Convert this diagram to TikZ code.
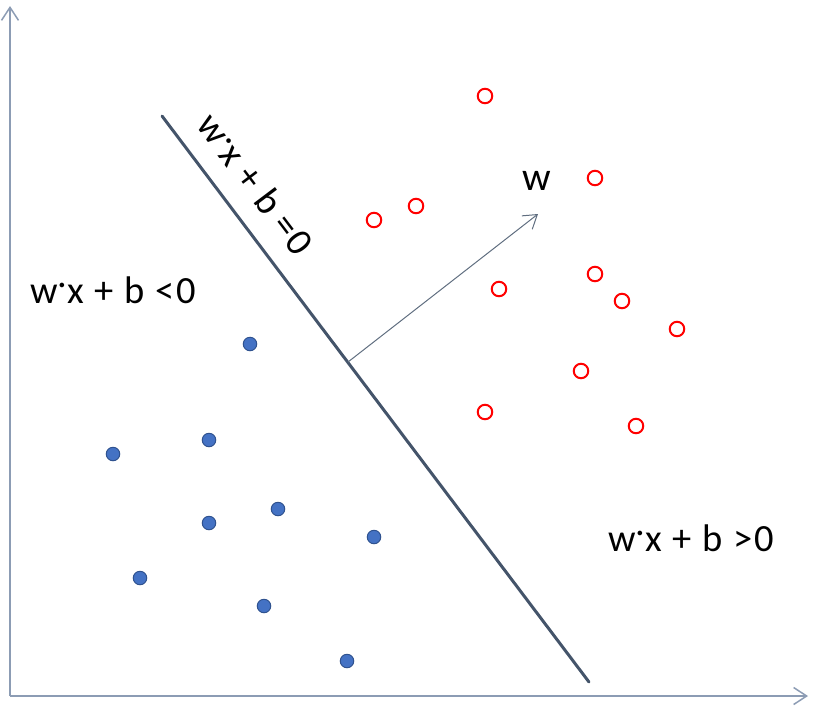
\documentclass[tikz,border=0pt]{standalone}
\usepackage{fontspec}
\setmainfont{Carlito}
\usetikzlibrary{arrows.meta,positioning}
\definecolor{axisgray}{RGB}{140,156,180}
\definecolor{slate}{RGB}{68,84,106}
\definecolor{dotblue}{RGB}{68,114,196}
\definecolor{dotedge}{RGB}{47,82,143}
\newcommand{\wdot}{\raisebox{0.4em}{.}}

\begin{document}
\begin{tikzpicture}[x=1pt,y=-1pt,
    bluept/.style={circle, fill=dotblue, draw=dotedge, line width=1pt, minimum size=13.5pt, inner sep=0pt},
    redpt/.style={circle, draw=red, line width=2pt, minimum size=14.5pt, inner sep=0pt},
    eqn/.style={font=\fontsize{38.5}{45}\selectfont\addfontfeature{LetterSpace=5}, inner sep=0pt},
    barb/.style={-{Straight Barb[length=13pt,width=17pt]}}]
    \useasboundingbox (0,0) rectangle (818,705);
    % axes
    \coordinate (o) at (10,696);
    \coordinate (ytop) at (10,6);
    \coordinate (xend) at (808,696);
    \draw[barb, axisgray, line width=1.5pt] (o) -- (ytop);
    \draw[barb, axisgray, line width=1.5pt] (o) -- (xend);

    % separating line and normal vector
    \coordinate (s1) at (162,116);
    \coordinate (s2) at (589,682);
    \draw[slate, line width=3pt, line cap=round] (s1) -- (s2);
    \coordinate (foot) at (348,362);
    \coordinate (tip) at (538,214);
    \draw[barb, slate!85, line width=1pt] (foot) -- (tip);
    \node[eqn, font=\fontsize{40}{46}\selectfont] (w) at (537,181) {w};
    \node[eqn, rotate=-52.9] (eq0) at (256,184) {w\wdot x + b =0};
    \node[eqn] (neg) at (113,290) {w\wdot x + b <0};
    \node[eqn] (pos) at (691,538) {w\wdot x + b >0};

    % class -1
    \node[bluept] (b1) at (250,344) {};
    \node[bluept] (b2) at (209,440) {};
    \node[bluept] (b3) at (113,454) {};
    \node[bluept] (b4) at (278,509) {};
    \node[bluept] (b5) at (209,523) {};
    \node[bluept] (b6) at (374,537) {};
    \node[bluept] (b7) at (140,578) {};
    \node[bluept] (b8) at (264,606) {};
    \node[bluept] (b9) at (347,661) {};

    % class +1
    \node[redpt] (r1) at (485,96) {};
    \node[redpt] (r2) at (374,220) {};
    \node[redpt] (r3) at (416,206) {};
    \node[redpt] (r4) at (595,178) {};
    \node[redpt] (r5) at (499,289) {};
    \node[redpt] (r6) at (595,274) {};
    \node[redpt] (r7) at (622,301) {};
    \node[redpt] (r8) at (677,329) {};
    \node[redpt] (r9) at (581,371) {};
    \node[redpt] (r10) at (485,412) {};
    \node[redpt] (r11) at (636,426) {};
  \end{tikzpicture}
\end{document}
